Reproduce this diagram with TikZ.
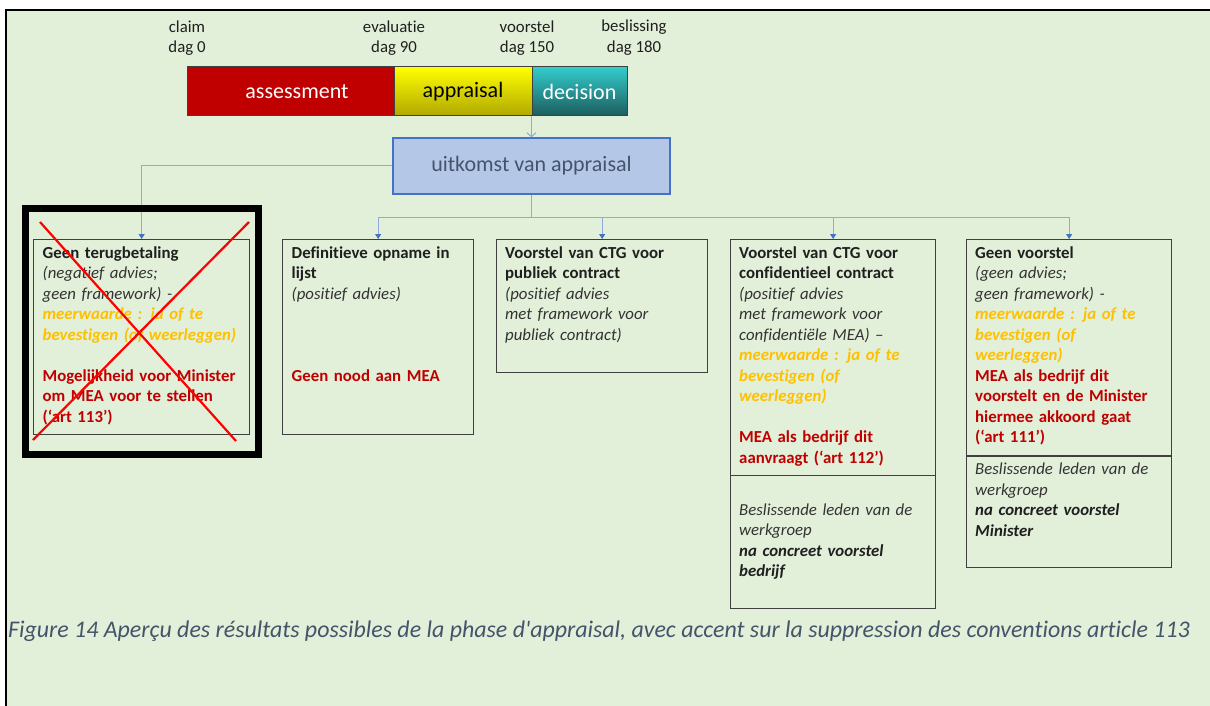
\documentclass[tikz,border=0pt]{standalone}
\usepackage{fontspec}
\setmainfont{Carlito}[Ligatures={TeX,NoCommon}]
\newfontfamily\capfont{Carlito}[Ligatures=NoCommon]
\usetikzlibrary{arrows.meta,calc}

\definecolor{pagebg}{HTML}{E2EFD9}
\definecolor{inkgray}{HTML}{1F1F1F}
\definecolor{softgray}{HTML}{333333}
\definecolor{amber}{HTML}{FFC000}
\definecolor{crimson}{HTML}{C00000}
\definecolor{boxline}{HTML}{3F3F3F}
\definecolor{barline}{HTML}{404040}
\definecolor{slate}{HTML}{44546A}
\definecolor{paleblue}{HTML}{B4C7E7}
\definecolor{midblue}{HTML}{4472C4}
\definecolor{linkblue}{HTML}{8FAADC}
\definecolor{tipblue}{HTML}{4472C4}
\definecolor{crossred}{HTML}{FF0000}

\newcommand\bodysize{\fontsize{16.8bp}{20.5bp}\selectfont}
\newcommand\bigsize{\fontsize{22bp}{26bp}\selectfont}
\newcommand\amb[1]{{\bfseries\itshape\color{amber}#1}}
\newcommand\crim[1]{{\bfseries\color{crimson}#1}}
\newcommand\soft[1]{{\itshape\color{softgray}#1}}

\tikzset{
  outbox/.style={draw=boxline, line width=1.3bp, anchor=north west, inner sep=0pt},
  boxtext/.style={anchor=north west, inner sep=0pt, text width=240bp, align=left,
    font=\bodysize, text=inkgray},
  daylabel/.style={anchor=north, inner sep=0pt, align=center, font=\bodysize, text=inkgray},
  phasebox/.style={draw=barline, line width=1bp, minimum height=49bp, inner sep=0pt, font=\bigsize},
  conn/.style={draw=linkblue, line width=1bp, -{Triangle[length=5bp,width=6bp,color=tipblue]}},
}

\begin{document}
\begin{tikzpicture}[x=1bp,y=-1bp]
\useasboundingbox (0,0) rectangle (1210,706);
\fill[white] (0,0) rectangle (1210,706);
\fill[pagebg] (6,10) rectangle (1210,706);
\draw[black, line width=2.5bp] (6,706) -- (6,10) -- (1210,10);

% time line labels
\node[daylabel] (l0) at (187,17.6) {\strut claim\\dag 0};
\node[daylabel] (l1) at (394,17.6) {\strut evaluatie\\dag 90};
\node[daylabel] (l2) at (527,17.6) {\strut voorstel\\dag 150};
\node[daylabel] (l3) at (634,17.0) {\strut beslissing\\dag 180};

% phase bar
\node[phasebox, fill=crimson, text=white, minimum width=207bp] (ass) at (290.5,91.5) {\hspace*{13bp}assessment};
\node[phasebox, top color=yellow, bottom color={rgb,255:red,176;green,168;blue,0}, text=black,
  minimum width=138bp] (app) at (463,91.5) {appraisal};
\node[phasebox, top color={rgb,255:red,51;green,204;blue,204}, bottom color={rgb,255:red,28;green,92;blue,92},
  text=white, minimum width=95bp] (dec) at (579.5,91.5) {decision};

% outcome of the appraisal
\node[draw=midblue, line width=1.2bp, fill=paleblue, text=slate, font=\bigsize,
  minimum width=277bp, minimum height=56bp, inner sep=0pt] (uit) at (531.5,166) {uitkomst van appraisal};
\draw[linkblue, line width=1bp, -{Straight Barb[length=4bp,width=9bp]}]
  (uit.north |- app.south) -- (uit.north);

% outcome boxes
\node[outbox, minimum width=216bp, minimum height=195bp] (b1) at (33,239) {};
\node[outbox, minimum width=191bp, minimum height=195bp] (b2) at (282,239) {};
\node[outbox, minimum width=211bp, minimum height=133bp] (b3) at (496,239) {};
\node[outbox, minimum width=205bp, minimum height=236bp] (b4) at (730,239) {};
\node[outbox, minimum width=205bp, minimum height=133bp] (b4l) at (730,475) {};
\node[outbox, minimum width=205bp, minimum height=216bp] (b5) at (966,239) {};
\node[outbox, minimum width=205bp, minimum height=111bp] (b5l) at (966,456) {};

% connectors
\coordinate (hub) at (531.5,217);
\draw[conn] (uit.west) -| (b1.north);
\draw[conn] (uit.south) -- (hub) -| (b2.north);
\draw[conn] (hub) -| (b3.north);
\draw[conn] (hub) -| (b4.north);
\draw[conn] (hub) -| (b5.north);

% struck-out option
\node[draw=black, line width=7bp, minimum width=233bp, minimum height=246bp, inner sep=0pt]
  (frame1) at (142,331.5) {};

\node[boxtext] (t1) at ([xshift=9.5bp,yshift=-4.6bp]b1.north west) {\strut
  \textbf{Geen terugbetaling}\\
  \soft{(negatief advies;}\\
  \soft{geen framework) -}\\
  \amb{meerwaarde : ja of te}\\
  \amb{bevestigen (of weerleggen)}\\[20.5bp]
  \crim{Mogelijkheid voor Minister}\\
  \crim{om MEA voor te stellen}\\
  \crim{(‘art 113’)}};

\draw[crossred, line width=2.2bp] (40,222) -- (236,441);
\draw[crossred, line width=2.2bp] (249,222) -- (33,440);

\node[boxtext] (t2) at ([xshift=9.5bp,yshift=-4.6bp]b2.north west) {\strut
  \textbf{Definitieve opname in}\\
  \textbf{lijst}\\
  \soft{(positief advies)}\\[61.5bp]
  \crim{Geen nood aan MEA}};

\node[boxtext] (t3) at ([xshift=9bp,yshift=-4.6bp]b3.north west) {\strut
  \textbf{Voorstel van CTG voor}\\
  \textbf{publiek contract}\\
  \soft{(positief advies}\\
  \soft{met framework voor}\\
  \soft{publiek contract)}};

\node[boxtext] (t4) at ([xshift=9bp,yshift=-4.6bp]b4.north west) {\strut
  \textbf{Voorstel van CTG voor}\\
  \textbf{confidentieel contract}\\
  \soft{(positief advies}\\
  \soft{met framework voor}\\
  \soft{confidentiële MEA) –}\\
  \amb{meerwaarde : ja of te}\\
  \amb{bevestigen (of}\\
  \amb{weerleggen)}\\[20.5bp]
  \crim{MEA als bedrijf dit}\\
  \crim{aanvraagt (‘art 112’)}};

\node[boxtext] (t4l) at ([xshift=9bp,yshift=-25.6bp]b4l.north west) {\strut
  \soft{Beslissende leden van de}\\
  \soft{werkgroep}\\
  {\bfseries\itshape na concreet voorstel}\\
  {\bfseries\itshape bedrijf}};

\node[boxtext] (t5) at ([xshift=9bp,yshift=-4.6bp]b5.north west) {\strut
  \textbf{Geen voorstel}\\
  \soft{(geen advies;}\\
  \soft{geen framework) -}\\
  \amb{meerwaarde : ja of te}\\
  \amb{bevestigen (of}\\
  \amb{weerleggen)}\\
  \crim{MEA als bedrijf dit}\\
  \crim{voorstelt en de Minister}\\
  \crim{hiermee akkoord gaat}\\
  \crim{(‘art 111’)}};

\node[boxtext] (t5l) at ([xshift=9bp,yshift=-4.2bp]b5l.north west) {\strut
  \soft{Beslissende leden van de}\\
  \soft{werkgroep}\\
  {\bfseries\itshape na concreet voorstel}\\
  {\bfseries\itshape Minister}};

% caption
\node[anchor=base west, inner sep=0pt, font=\capfont\fontsize{23.9bp}{28bp}\selectfont\itshape, text=slate]
  (cap) at (8,637) {Figure 14 Aperçu des résultats possibles de la phase d'appraisal, avec accent sur la suppression des conventions article 113};
\end{tikzpicture}
\end{document}
